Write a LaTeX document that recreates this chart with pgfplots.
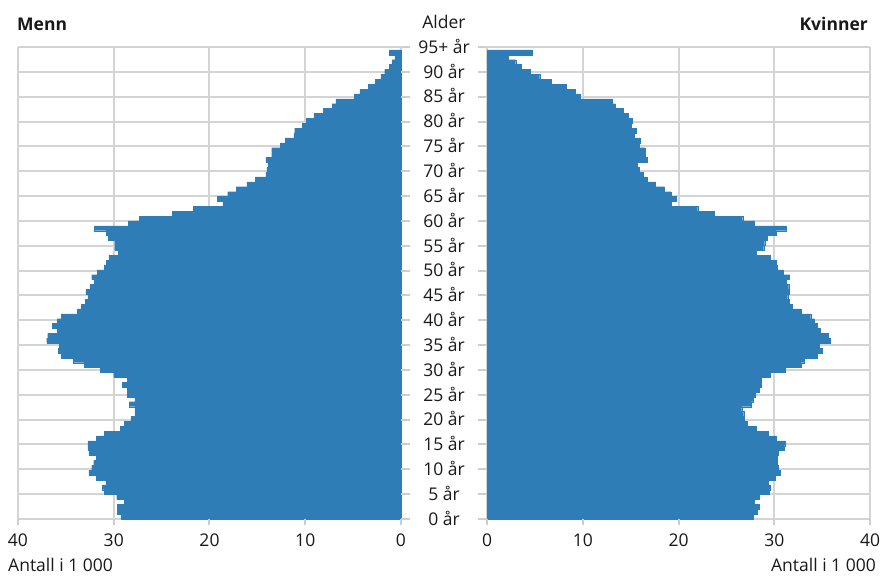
\documentclass[border=0pt]{standalone}
\usepackage{pgfplots}
\pgfplotsset{compat=1.18}
\usepackage{pgfplotstable}
\usepackage{fontspec}
\setmainfont{Open Sans}
\definecolor{barblue}{RGB}{46,125,182}
\definecolor{gridgray}{RGB}{212,212,212}
\definecolor{tickgray}{RGB}{205,205,205}
\definecolor{txt}{RGB}{25,25,25}

\pgfplotstableread{
age men women
0 29.2 27.8
1 29.6 28.2
2 29.6 28.4
3 28.9 27.9
4 29.7 28.4
5 31.0 29.5
6 31.2 29.6
7 30.8 29.4
8 31.8 30.1
9 32.6 30.6
10 32.3 30.4
11 32.1 30.3
12 31.8 30.3
13 32.6 30.4
14 32.7 31.0
15 32.7 31.1
16 31.8 30.2
17 31.0 29.4
18 29.3 28.1
19 28.9 27.2
20 28.2 26.9
21 27.8 26.8
22 27.8 26.6
23 28.4 27.6
24 27.8 27.8
25 28.6 28.0
26 28.6 28.4
27 29.1 28.6
28 28.6 28.6
29 30.0 29.6
30 31.4 31.1
31 33.1 32.8
32 34.2 33.1
33 35.5 34.5
34 35.8 35.0
35 35.7 34.7
36 37.0 35.8
37 36.9 35.6
38 35.9 34.8
39 36.4 34.5
40 35.9 34.2
41 35.5 33.8
42 33.8 32.8
43 33.4 31.9
44 33.0 31.6
45 32.7 31.4
46 32.9 31.6
47 32.5 31.5
48 32.0 31.2
49 32.3 31.6
50 31.7 30.9
51 31.0 30.3
52 30.8 30.2
53 30.5 29.6
54 29.5 28.1
55 29.9 28.9
56 29.9 29.0
57 30.6 29.3
58 30.8 30.2
59 32.0 31.2
60 28.5 27.9
61 27.3 26.7
62 23.9 23.7
63 21.7 22.0
64 18.6 19.2
65 19.2 19.8
66 18.1 19.2
67 17.2 18.5
68 16.1 17.6
69 15.2 16.7
70 14.1 16.3
71 14.0 15.9
72 13.9 15.7
73 14.1 16.7
74 13.5 16.5
75 13.5 16.5
76 12.6 15.9
77 12.1 16.0
78 11.2 15.4
79 11.1 15.6
80 10.3 15.1
81 9.9 15.2
82 9.1 14.7
83 8.1 14.2
84 7.2 13.4
85 6.8 13.1
86 4.9 9.7
87 4.3 9.2
88 3.4 8.3
89 2.7 6.7
90 2.1 5.5
91 1.7 4.5
92 1.25 3.6
93 0.94 3.0
94 0.63 2.2
95 1.22 4.7
}\pyramid

\begin{document}
\begin{tikzpicture}[x=1pt,y=1pt]
\path[use as bounding box] (0,0) rectangle (882,575);
\pgfplotsset{
  pyr/.style={
    scale only axis, width=383pt, height=472pt,
    ymin=0, ymax=96.6, xmin=0, xmax=40,
    xtick={0,10,20,30,40},
    ytick={0,5.0842,10.1684,15.2526,20.3368,25.4211,30.5053,35.5895,40.6737,45.7579,50.8421,55.9263,61.0105,66.0947,71.1789,76.2632,81.3474,86.4316,91.5158,96.6},
    yticklabel=\empty,
    grid=major,
    major grid style={gridgray, line width=2pt},
    axis line style={draw=none},
    major tick length=0pt,
    xtick pos=bottom,
    xbar, bar width=1, bar shift=0pt,
    /pgf/number format/assume math mode=true,
    tick label style={font=\fontsize{17.5}{20}\selectfont, text=txt},
    xticklabel style={yshift=-11pt},
    clip=false,
  }
}
\begin{axis}[pyr, at={(18pt,56pt)}, anchor=south west, x dir=reverse]
\addplot[fill=barblue, draw=barblue, line width=0.2pt] table[x=men, y expr=\thisrow{age}+0.5] {\pyramid};
\pgfplotsinvokeforeach{0,5.0842,10.1684,15.2526,20.3368,25.4211,30.5053,35.5895,40.6737,45.7579,50.8421,55.9263,61.0105,66.0947,71.1789,76.2632,81.3474,86.4316,91.5158,96.6}{
  \draw[tickgray, line width=2pt] (axis cs:0,#1) -- ++(9pt,0);
}
\pgfplotsinvokeforeach{0,10,20,30,40}{
  \draw[tickgray, line width=2pt] (axis cs:#1,0) -- ++(0,-6pt);
}
\end{axis}
\begin{axis}[pyr, at={(487pt,56pt)}, anchor=south west]
\addplot[fill=barblue, draw=barblue, line width=0.2pt] table[x=women, y expr=\thisrow{age}+0.5] {\pyramid};
\pgfplotsinvokeforeach{0,5.0842,10.1684,15.2526,20.3368,25.4211,30.5053,35.5895,40.6737,45.7579,50.8421,55.9263,61.0105,66.0947,71.1789,76.2632,81.3474,86.4316,91.5158,96.6}{
  \draw[tickgray, line width=2pt] (axis cs:0,#1) -- ++(-9pt,0);
}
\pgfplotsinvokeforeach{0,10,20,30,40}{
  \draw[tickgray, line width=2pt] (axis cs:#1,0) -- ++(0,-6pt);
}
\end{axis}
\tikzset{lab/.style={font=\fontsize{17.5}{20}\selectfont, text=txt, inner sep=0pt}}
\foreach \i in {0,...,18} {
  \pgfmathtruncatemacro\a{5*\i}
  \node[lab, anchor=base] at (444, {56+24.842*\i-6.3}) {\a\ år};
}
\node[lab, anchor=base] at (444, {56+24.842*19-6.3}) {95+ år};
\node[lab, anchor=base] at (444, 546) {Alder};
\node[lab, anchor=base west, font=\fontsize{17.5}{20}\selectfont\bfseries] at (17, 544) {Menn};
\node[lab, anchor=base east, font=\fontsize{17.5}{20}\selectfont\bfseries] at (868, 544) {Kvinner};
\node[lab, anchor=base west] at (8, 4) {Antall i 1 000};
\node[lab, anchor=base east] at (876, 4) {Antall i 1 000};
\end{tikzpicture}
\end{document}
